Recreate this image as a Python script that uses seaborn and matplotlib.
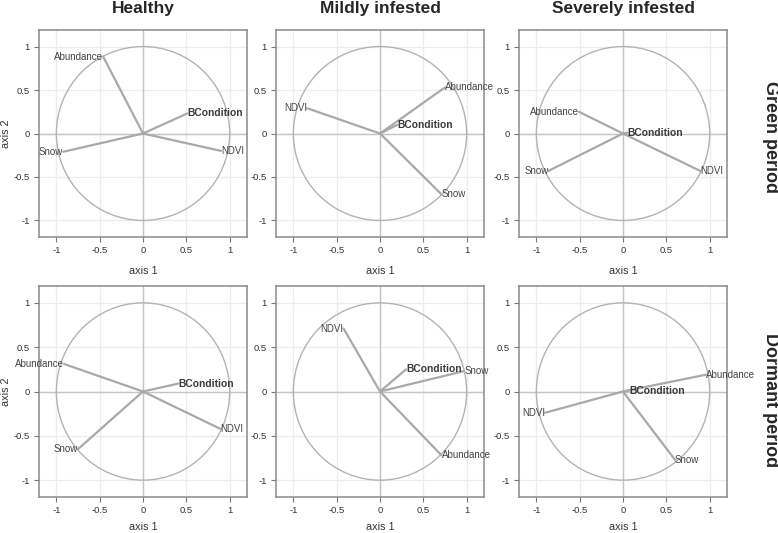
import matplotlib
matplotlib.use("Agg")
import matplotlib.pyplot as plt
from matplotlib.patches import Circle
import pandas as pd
import seaborn as sns

sns.set_theme(style="whitegrid")
plt.rcParams["font.family"] = ["Liberation Sans", "DejaVu Sans"]

VARIABLES = ["Abundance", "BCondition", "NDVI", "Snow"]
GROUPS = ["Healthy", "Mildly infested", "Severely infested"]
PERIODS = ["Green period", "Dormant period"]

# loadings on axis 1 / axis 2, same order as VARIABLES
healthy_green_ax1 = [-0.46, 0.51, 0.90, -0.92]
healthy_green_ax2 = [0.885, 0.23, -0.20, -0.21]
mild_green_ax1 = [0.75, 0.20, -0.84, 0.71]
mild_green_ax2 = [0.53, 0.10, 0.29, -0.70]
severe_green_ax1 = [-0.51, 0.05, 0.89, -0.86]
severe_green_ax2 = [0.25, 0.01, -0.43, -0.43]
healthy_dormant_ax1 = [-0.91, 0.41, 0.89, -0.75]
healthy_dormant_ax2 = [0.31, 0.09, -0.42, -0.65]
mild_dormant_ax1 = [0.71, 0.30, -0.42, 0.97]
mild_dormant_ax2 = [-0.72, 0.25, 0.71, 0.23]
severe_dormant_ax1 = [0.96, 0.07, -0.90, 0.60]
severe_dormant_ax2 = [0.19, 0.01, -0.24, -0.77]

TICKS = [-1, -0.5, 0, 0.5, 1]
TICK_LABELS = ["-1", "-0.5", "0", "0.5", "1"]

panels = {
    ("Green period", "Healthy"): (healthy_green_ax1, healthy_green_ax2),
    ("Green period", "Mildly infested"): (mild_green_ax1, mild_green_ax2),
    ("Green period", "Severely infested"): (severe_green_ax1, severe_green_ax2),
    ("Dormant period", "Healthy"): (healthy_dormant_ax1, healthy_dormant_ax2),
    ("Dormant period", "Mildly infested"): (mild_dormant_ax1, mild_dormant_ax2),
    ("Dormant period", "Severely infested"): (severe_dormant_ax1, severe_dormant_ax2),
}

W, H = 778, 533
fig = plt.figure(figsize=(W / 100, H / 100), dpi=100)

col_left = [39, 276, 519]
col_width = 208
row_top = [30, 286]
row_height = [207, 211]
xlabel_y = [271, 527]  # pixel row of the "axis 1" labels

for r, period in enumerate(PERIODS):
    for c, group in enumerate(GROUPS):
        ax = fig.add_axes([col_left[c] / W, 1 - (row_top[r] + row_height[r]) / H,
                           col_width / W, row_height[r] / H])
        ax1, ax2 = panels[(period, group)]

        # each arrow is a two-point line from the origin to the loading
        rows = []
        for v, x, y in zip(VARIABLES, ax1, ax2):
            rows.append({"variable": v, "axis 1": 0.0, "axis 2": 0.0})
            rows.append({"variable": v, "axis 1": x, "axis 2": y})
        df = pd.DataFrame(rows)

        ax.axhline(0, color="#c4c4c4", lw=1, zorder=1)
        ax.axvline(0, color="#c4c4c4", lw=1, zorder=1)
        ax.add_patch(Circle((0, 0), 1, fill=False, ec="#b3b3b3", lw=1, zorder=2))

        sns.lineplot(data=df, x="axis 1", y="axis 2", units="variable",
                     estimator=None, sort=False, color="#a9a9a9", lw=1.6,
                     ax=ax, zorder=3)

        for v, x, y in zip(VARIABLES, ax1, ax2):
            ha = "right" if x < 0 else "left"
            if v == "BCondition":
                ax.text(x, y, v, ha=ha, va="center", fontsize=7.4,
                        fontweight="bold", color="#3a3a3a", zorder=4)
            else:
                ax.text(x, y, v, ha=ha, va="center", fontsize=7,
                        color="#444444", zorder=4)

        ax.set_xlim(-1.2, 1.2)
        ax.set_ylim(-1.19, 1.19)
        ax.set_xticks(TICKS)
        ax.set_xticklabels(TICK_LABELS)
        ax.set_yticks(TICKS)
        ax.set_yticklabels(TICK_LABELS)
        ax.grid(True, color="#ececec", lw=0.9)
        ax.tick_params(axis="both", which="both", direction="out", length=3.5,
                       width=0.8, color="#777777", labelsize=6.8,
                       labelcolor="#333333", pad=3, left=True, bottom=True)
        for s in ax.spines.values():
            s.set_color("#8a8a8a")
            s.set_linewidth(1.1)

        ax.set_xlabel("axis 1", fontsize=7.8, color="#333333", va="center")
        bottom_px = row_top[r] + row_height[r]
        ax.xaxis.set_label_coords(0.5, -(xlabel_y[r] - bottom_px) / row_height[r])
        if c == 0:
            ax.set_ylabel("axis 2", fontsize=7.8, color="#333333", va="center")
            ax.yaxis.set_label_coords(-(col_left[c] - 6) / col_width, 0.5)
        else:
            ax.set_ylabel("")

for c, group in enumerate(GROUPS):
    fig.text((col_left[c] + col_width / 2) / W, 1 - 9 / H, group,
             ha="center", va="center", fontsize=12.5, fontweight="bold")

fig.text(770 / W, 1 - 137 / H, PERIODS[0], rotation=270,
         ha="center", va="center", fontsize=13, fontweight="bold")
fig.text(770 / W, 1 - 400 / H, PERIODS[1], rotation=270,
         ha="center", va="center", fontsize=13, fontweight="bold")

fig.savefig("out.png", dpi=100, facecolor="white")
